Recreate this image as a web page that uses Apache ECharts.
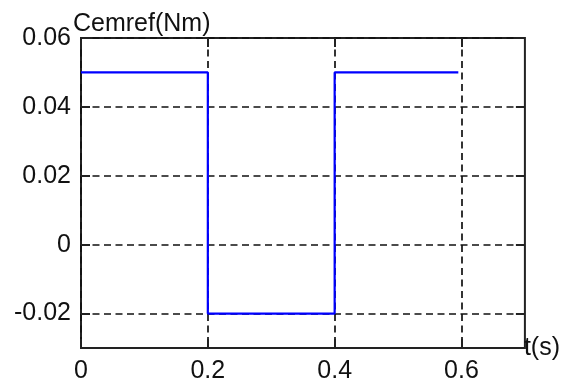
<!DOCTYPE html>
<html>
<head>
<meta charset="utf-8">
<script src="https://cdn.jsdelivr.net/npm/echarts@6/dist/echarts.min.js"></script>
<style>html,body{margin:0;padding:0;background:#fff}#c{width:563px;height:387px}</style>
</head>
<body>
<div id="c"></div>
<script>
const timeValues = [0, 0.2, 0.2, 0.4, 0.4, 0.595];
const torqueValues = [0.05, 0.05, -0.02, -0.02, 0.05, 0.05];
const xTicks = [0, 0.2, 0.4, 0.6];
const yTicks = [-0.02, 0, 0.02, 0.04, 0.06];

const font = 'Liberation Sans';
const chart = echarts.init(document.getElementById('c'), null, {renderer: 'canvas'});
const data = timeValues.map((t, i) => [t, torqueValues[i]]);
const dash = {color: '#111', width: 1.7, type: [7, 4.5]};
const tick = {show: true, inside: true, length: 9, lineStyle: {color: '#222', width: 2}};
chart.setOption({
  animation: false,
  backgroundColor: '#fff',
  grid: {left: 81, right: 37, top: 38, bottom: 39, show: true, borderColor: '#222', borderWidth: 2, backgroundColor: 'transparent'},
  xAxis: [{
    type: 'value', min: 0, max: 0.7, position: 'bottom',
    name: 't(s)', nameLocation: 'end', nameGap: -1, nameMoveOverlap: false,
    nameTextStyle: {fontFamily: font, fontSize: 25, color: '#111', align: 'left', verticalAlign: 'middle'},
    axisLine: {show: false, onZero: false},
    axisTick: Object.assign({customValues: xTicks}, tick),
    axisLabel: {fontFamily: font, fontSize: 25, color: '#111', margin: 11, customValues: xTicks, formatter: v => String(v)},
    splitLine: {show: true, lineStyle: dash}
  }, {
    type: 'value', min: 0, max: 0.7, position: 'top',
    axisLine: {show: false, onZero: false},
    axisTick: Object.assign({customValues: xTicks}, tick),
    axisLabel: {show: false},
    splitLine: {show: false}
  }],
  yAxis: [{
    type: 'value', min: -0.03, max: 0.06, position: 'left',
    name: 'Cemref(Nm)', nameLocation: 'end', nameGap: 1, nameMoveOverlap: false,
    nameTextStyle: {fontFamily: font, fontSize: 25, color: '#111', align: 'left', verticalAlign: 'bottom', padding: [0,0,0,-8]},
    axisLine: {show: false, onZero: false},
    axisTick: Object.assign({customValues: yTicks}, tick),
    axisLabel: {fontFamily: font, fontSize: 25, color: '#111', margin: 10, customValues: yTicks, formatter: v => String(v)},
    splitLine: {show: true, lineStyle: dash}
  }, {
    type: 'value', min: -0.03, max: 0.06, position: 'right',
    axisLine: {show: false, onZero: false},
    axisTick: Object.assign({customValues: yTicks}, tick),
    axisLabel: {show: false},
    splitLine: {show: false}
  }],
  series: [{
    type: 'line', data: data, showSymbol: false, symbol: 'none', clip: false,
    lineStyle: {color: '#0000ff', width: 2.2}, z: 10
  }]
});
</script>
</body>
</html>
